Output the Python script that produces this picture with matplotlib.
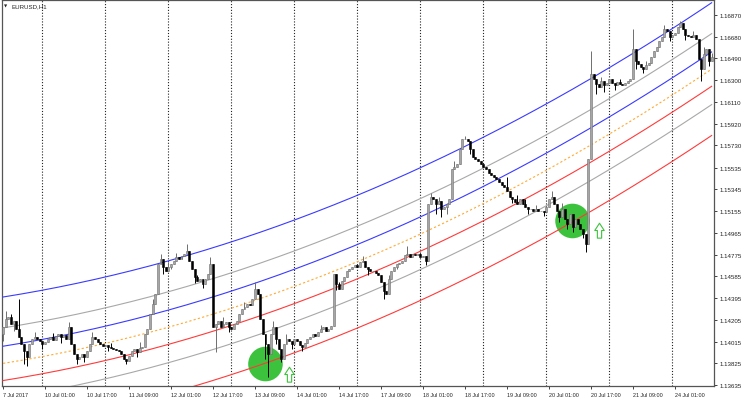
import numpy as np
import matplotlib
matplotlib.use("Agg")
import matplotlib.pyplot as plt
from matplotlib.path import Path

# EURUSD H1, bars from 7 Jul 2017 09:00 to 24 Jul 2017 15:00 (271 hourly bars)
first_open = 1.14081
closes = [
    1.14142, 1.14212, 1.14230, 1.14169, 1.14195, 1.14125, 1.14055, 1.13994, 1.13933, 1.13880,
    1.13994, 1.14037, 1.14055, 1.14037, 1.14020, 1.13994, 1.14011, 1.14037, 1.14055, 1.14029,
    1.14064, 1.14081, 1.14055, 1.14072, 1.14037, 1.14142, 1.13994, 1.13906, 1.13863, 1.13880,
    1.13906, 1.13880, 1.13933, 1.13994, 1.14055, 1.14037, 1.14011, 1.13994, 1.13976, 1.13985,
    1.13968, 1.13959, 1.13950, 1.13941, 1.13933, 1.13906, 1.13863, 1.13845, 1.13889, 1.13933,
    1.13950, 1.13924, 1.13959, 1.13968, 1.14081, 1.14125, 1.14256, 1.14343, 1.14431, 1.14693,
    1.14737, 1.14667, 1.14632, 1.14667, 1.14693, 1.14719, 1.14754, 1.14737, 1.14763, 1.14780,
    1.14807, 1.14719, 1.14649, 1.14579, 1.14544, 1.14562, 1.14518, 1.14562, 1.14606, 1.14693,
    1.14142, 1.14169, 1.14195, 1.14142, 1.14169, 1.14186, 1.14142, 1.14125, 1.14169, 1.14195,
    1.14256, 1.14300, 1.14317, 1.14343, 1.14335, 1.14387, 1.14474, 1.14431, 1.14212, 1.14081,
    1.13994, 1.13906, 1.14081, 1.14142, 1.14037, 1.13950, 1.13863, 1.13994, 1.14037, 1.14020,
    1.13994, 1.14037, 1.14020, 1.13985, 1.13968, 1.14002, 1.14037, 1.14055, 1.14081, 1.14064,
    1.14099, 1.14125, 1.14142, 1.14107, 1.14125, 1.14151, 1.14606, 1.14518, 1.14474, 1.14544,
    1.14579, 1.14632, 1.14649, 1.14667, 1.14684, 1.14667, 1.14710, 1.14719, 1.14667, 1.14649,
    1.14632, 1.14632, 1.14614, 1.14597, 1.14536, 1.14457, 1.14431, 1.14562, 1.14632, 1.14667,
    1.14693, 1.14702, 1.14719, 1.14772, 1.14780, 1.14754, 1.14780, 1.14772, 1.14780, 1.14754,
    1.14763, 1.14719, 1.15217, 1.15279, 1.15261, 1.15217, 1.15244, 1.15174, 1.15191, 1.15217,
    1.15261, 1.15523, 1.15541, 1.15567, 1.15698, 1.15785, 1.15785, 1.15768, 1.15698, 1.15628,
    1.15611, 1.15593, 1.15567, 1.15541, 1.15523, 1.15488, 1.15471, 1.15453, 1.15436, 1.15410,
    1.15383, 1.15366, 1.15331, 1.15279, 1.15261, 1.15235, 1.15217, 1.15261, 1.15217, 1.15191,
    1.15174, 1.15174, 1.15156, 1.15174, 1.15156, 1.15156, 1.15147, 1.15191, 1.15261, 1.15279,
    1.15217, 1.15156, 1.15104, 1.15174, 1.15086, 1.15043, 1.15130, 1.15016, 1.15086, 1.15043,
    1.14999, 1.14955, 1.14868, 1.15611, 1.16354, 1.16310, 1.16266, 1.16240, 1.16292, 1.16257,
    1.16275, 1.16310, 1.16275, 1.16257, 1.16284, 1.16266, 1.16257, 1.16275, 1.16292, 1.16310,
    1.16572, 1.16467, 1.16441, 1.16415, 1.16397, 1.16432, 1.16450, 1.16502, 1.16555, 1.16589,
    1.16642, 1.16677, 1.16747, 1.16729, 1.16677, 1.16694, 1.16712, 1.16764, 1.16799, 1.16747,
    1.16694, 1.16686, 1.16677, 1.16694, 1.16659, 1.16485, 1.16397, 1.16528, 1.16572, 1.16467,
    1.16502,
]
# wick extremes that stick out beyond the bodies
high_marks = {1: 1.14282, 3: 1.14256, 6: 1.14387, 12: 1.14099, 19: 1.14090, 25: 1.14186,
              34: 1.14099, 41: 1.14002, 52: 1.14011, 57: 1.14387, 60: 1.14780, 63: 1.14710,
              66: 1.14790, 70: 1.14868, 74: 1.14597, 79: 1.14754, 84: 1.14230, 92: 1.14360,
              96: 1.14536, 103: 1.14195, 108: 1.14080, 121: 1.14160, 128: 1.14540, 137: 1.14760,
              147: 1.14597, 154: 1.14850, 159: 1.14790, 163: 1.15310, 166: 1.15280, 172: 1.15590,
              176: 1.15812, 179: 1.15680, 192: 1.15453, 196: 1.15300, 199: 1.15260, 203: 1.15210,
              209: 1.15330, 213: 1.15230, 224: 1.16555, 228: 1.16330, 235: 1.16310,
              240: 1.16747, 245: 1.16470, 252: 1.16780, 258: 1.16817, 263: 1.16730,
              267: 1.16590, 270: 1.16540}
low_marks = {0: 1.14020, 4: 1.14110, 8: 1.13819, 9: 1.13801, 15: 1.13950, 22: 1.14000,
             28: 1.13819, 31: 1.13840, 40: 1.13930, 47: 1.13819, 51: 1.13880, 61: 1.14610,
             64: 1.14650, 73: 1.14530, 76: 1.14480, 81: 1.13924, 86: 1.14100, 100: 1.13863,
             101: 1.13705, 104: 1.13990, 106: 1.13836, 110: 1.13950, 114: 1.13930, 127: 1.14470,
             139: 1.14600, 145: 1.14387, 150: 1.14650, 161: 1.14680, 165: 1.15130,
             167: 1.15104, 169: 1.15130, 178: 1.15650, 194: 1.15230, 200: 1.15130,
             206: 1.15110, 212: 1.15060, 215: 1.14999, 217: 1.14970, 221: 1.14920,
             222: 1.14798, 226: 1.16179, 229: 1.16200, 233: 1.16210, 241: 1.16400,
             244: 1.16360, 254: 1.16640, 260: 1.16650, 266: 1.16292, 269: 1.16420}

day_starts = [15, 39, 63, 87, 111, 135, 159, 183, 207, 231, 255]
time_ticks = [0, 16, 32, 48, 64, 80, 96, 112, 128, 144, 160, 176, 192, 208, 224, 240, 256]
time_labels = ["7 Jul 2017", "10 Jul 01:00", "10 Jul 17:00", "11 Jul 09:00", "12 Jul 01:00",
               "12 Jul 17:00", "13 Jul 09:00", "14 Jul 01:00", "14 Jul 17:00", "17 Jul 09:00",
               "18 Jul 01:00", "18 Jul 17:00", "19 Jul 09:00", "20 Jul 01:00", "20 Jul 17:00",
               "21 Jul 09:00", "24 Jul 01:00"]
price_ticks = [1.13635, 1.13825, 1.14015, 1.14205, 1.14395, 1.14585, 1.14775, 1.14965, 1.15155,
               1.15345, 1.15535, 1.15730, 1.15920, 1.16110, 1.16300, 1.16490, 1.16680, 1.16870]

# channel centre read at a few bars, bands as offsets from it
channel_bars = [0, 69, 136, 205, 270]
channel_mid = [1.1382, 1.1419, 1.1472, 1.1548, 1.1640]
band_offsets = [0.0015, 0.0031, 0.0058]

signal_bars = [100, 217]
signal_prices = [1.13819, 1.15069]
arrow_bars = [109, 227]
arrow_prices = [1.13732, 1.14990]

# ── figure ──
plt.rcParams['font.family'] = ['Liberation Sans', 'DejaVu Sans']
fig = plt.figure(figsize=(7.43, 4.02), dpi=100)
ax = fig.add_axes([2 / 743, 15 / 402, 712 / 743, 386 / 402])
ax.set_xlim(-0.4, 270.9)
ax.set_ylim(1.13627, 1.17000)

for d in day_starts:
    ax.axvline(d, color="#222222", lw=0.8, ls=(0, (1, 1.6)), zorder=1)

# signal circles (under lines and candles)
ax.scatter(signal_bars, signal_prices, s=620, color="#3cc23c", edgecolors="none", zorder=2)

# polynomial channel
bars = np.arange(len(closes))
coef = np.polyfit(channel_bars, channel_mid, 2)
mid = np.polyval(coef, bars)
inner, middle, outer = band_offsets
ax.plot(bars, mid + outer, color="#3a3aff", lw=0.8, zorder=3)
ax.plot(bars, mid + middle, color="#a8a8a8", lw=0.8, zorder=3)
ax.plot(bars, mid + inner, color="#3a3aff", lw=0.8, zorder=3)
ax.plot(bars, mid, color="#ffaa33", lw=0.8, ls=(0, (2, 2)), zorder=3)
ax.plot(bars, mid - inner, color="#ff3a3a", lw=0.8, zorder=3)
ax.plot(bars, mid - middle, color="#a8a8a8", lw=0.8, zorder=3)
ax.plot(bars, mid - outer, color="#ff3a3a", lw=0.8, zorder=3)

# candles
c = np.array(closes)
o = np.r_[first_open, c[:-1]]
hi = np.maximum(o, c)
lo = np.minimum(o, c)
for i, v in high_marks.items():
    hi[i] = max(hi[i], v)
for i, v in low_marks.items():
    lo[i] = min(lo[i], v)
up = c >= o
body_lo = np.minimum(o, c)
body_h = np.maximum(np.abs(c - o), 0.00003)

ax.vlines(bars[up], lo[up], hi[up], color="#6e6e6e", lw=0.7, zorder=4)
ax.vlines(bars[~up], lo[~up], hi[~up], color="black", lw=0.7, zorder=4)
ax.bar(bars[up], body_h[up], bottom=body_lo[up], width=0.75, color="#a6a6a6",
       edgecolor="#6e6e6e", linewidth=0.4, zorder=5)
ax.bar(bars[~up], body_h[~up], bottom=body_lo[~up], width=0.75, color="black",
       edgecolor="black", linewidth=0.4, zorder=5)

# hollow up arrows
arrow = Path([(-0.28, -1.0), (0.28, -1.0), (0.28, 0.0), (0.62, 0.0), (0.0, 0.95),
              (-0.62, 0.0), (-0.28, 0.0), (-0.28, -1.0)],
             [Path.MOVETO] + [Path.LINETO] * 6 + [Path.CLOSEPOLY])
ax.plot(arrow_bars, arrow_prices, ls="none", marker=arrow, markersize=11,
        markerfacecolor="white", markeredgecolor="#3cc23c", markeredgewidth=0.8, zorder=6)

# axes look
for sp in ax.spines.values():
    sp.set_color("#555555")
    sp.set_linewidth(0.9)
ax.yaxis.tick_right()
ax.set_yticks(price_ticks)
ax.set_yticklabels([f"{p:.5f}" for p in price_ticks])
ax.set_xticks(time_ticks)
ax.set_xticklabels(time_labels, ha="left")
ax.tick_params(axis="y", length=2.5, width=0.6, pad=1.5, labelsize=4.4, colors="#222222")
ax.tick_params(axis="x", length=2.5, width=0.6, pad=2, labelsize=3.9, colors="#222222")

fig.text(4 / 743, 1 - 7 / 402, "▼", fontsize=3, va="center", ha="left",
         family=["DejaVu Sans"], color="#222222")
fig.text(11 / 743, 1 - 7 / 402, "EURUSD,H1", fontsize=4.4, va="center", ha="left",
         color="#222222")

fig.savefig("out.png", dpi=100)
